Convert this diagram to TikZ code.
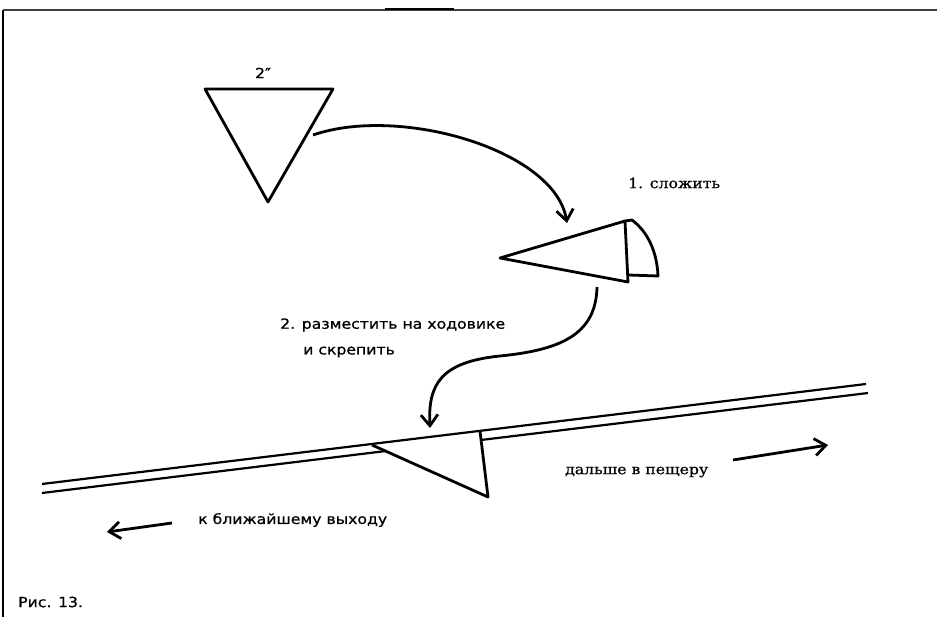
\documentclass[tikz,border=0pt]{standalone}
\usepackage{fontspec}
\setmainfont[FakeStretch=1.12, FakeBold=0.8]{DejaVu Serif}
\setsansfont[FakeStretch=1.12, FakeBold=0.8]{DejaVu Sans}
\usetikzlibrary{arrows.meta}
\begin{document}
\begin{tikzpicture}[x = 1pt, y = -1pt, line join = round,
    piece/.style = {line width = 2.8pt},
    rail/.style = {line width = 2.2pt},
    push/.style = {line width = 2.8pt, -{Straight Barb[length = 11pt, width = 17pt]}},
    note/.style = {inner sep = 0pt, anchor = west, font = \fontsize{14}{16}\selectfont\sffamily},
    serifnote/.style = {note, font = \fontsize{14}{16}\selectfont\rmfamily}]
    \useasboundingbox (0,0) rectangle (937,617);
    % frame of the scan
    \draw[line width = 1.8pt] (3,617) -- (3,10);
    \draw[line width = 1.4pt, black!75] (3,10) -- (937,10);
    \draw[line width = 2pt] (385,9.5) -- (454,9.5);
    % flat piece
    \draw[piece] (205,89) -- (333,89) -- (268,202) -- cycle;
    \node[note, anchor = center] (size) at (263,73) {2″};
    \coordinate (lift) at (313,135);
    \coordinate (drop) at (567,223);
    \draw[push] (lift) .. controls (400,105) and (555,150) .. (drop);
    % folded piece
    \draw[piece] (500,258) -- (625,221) -- (628,282) -- cycle;
    \draw[piece] (625,221) -- (632,220) .. controls (648,232) and (657,252) .. (658,276) -- (628,275);
    \node[serifnote] (fold) at (628,183) {1. сложить};
    \coordinate (pick) at (597,287);
    \coordinate (put) at (430,428);
    \draw[push] (pick) .. controls (596,335) and (560,350) .. (500,356)
        .. controls (440,362) and (428,385) .. (put);
    \node[note] (place) at (280,325) {2. разместить на ходовике};
    \node[note] (fasten) at (303,352) {и скрепить};
    % the line with the piece on it
    \draw[rail] (42,484) -- (866,384);
    \draw[rail] (42,493) -- (386,451);
    \draw[rail] (481,440) -- (868,393);
    \draw[piece] (372,445) -- (488,497) -- (480,431);
    % directions
    \node[serifnote] (onward) at (565,472) {дальше в пещеру};
    \coordinate (onfrom) at (733,460);
    \coordinate (onto) at (828,445);
    \draw[push] (onfrom) -- (onto);
    \node[note] (exit) at (198,520) {к ближайшему выходу};
    \coordinate (exfrom) at (172,523);
    \coordinate (exto) at (107,532);
    \draw[push] (exfrom) -- (exto);
    \node[note] (caption) at (18,602) {Рис. 13.};
\end{tikzpicture}
\end{document}
